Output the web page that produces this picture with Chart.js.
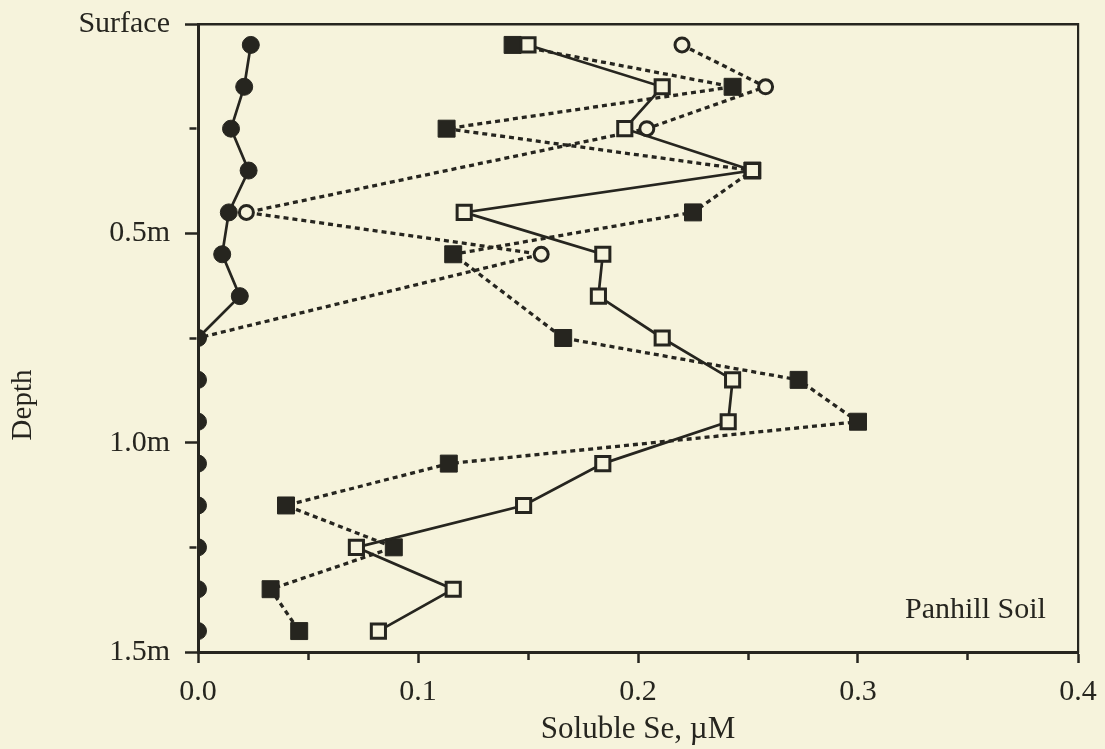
<!DOCTYPE html>
<html>
<head>
<meta charset="utf-8">
<script src="https://cdn.jsdelivr.net/npm/chart.js@4.4.1/dist/chart.umd.min.js"></script>
<style>
html,body{margin:0;padding:0;background:#f6f3dc;}
#wrap{position:relative;width:1105px;height:749px;}
</style>
</head>
<body>
<div id="wrap"><canvas id="c"></canvas></div>
<script>
// ---- data ----
const depths = [0.05,0.15,0.25,0.35,0.45,0.55,0.65,0.75,0.85,0.95,1.05,1.15,1.25,1.35,1.45];
const filledCircleSe = [0.024,0.021,0.015,0.023,0.014,0.011,0.019,0,0,0,0,0,0,0,0];
const openCircleSe   = [0.220,0.258,0.204,null,0.022,0.156,null,0,null,null,null,null,null,null,null];
const filledSquareSe = [0.143,0.243,0.113,0.252,0.225,0.116,null,0.166,0.273,0.300,0.114,0.040,0.089,0.033,0.046];
const openSquareSe   = [0.150,0.211,0.194,0.252,0.121,0.184,0.182,0.211,0.243,0.241,0.184,0.148,0.072,0.116,0.082];
const xTickLabels = ['0.0','0.1','0.2','0.3','0.4'];
const yTickLabels = ['Surface','0.5m','1.0m','1.5m'];
const xTitle = 'Soluble Se, \u00B5M';
const yTitle = 'Depth';
const panelLabel = 'Panhill Soil';

// ---- style ----
const INK = '#26251f';
const BG = '#f6f3dc';
const FONT = "'Liberation Serif','Times New Roman',serif";

const pts = arr => depths.map((d,i) => ({x: arr[i], y: d}));
const clipBox = {left: 0, top: 30, right: 30, bottom: 30};
const DOT = [5,4];

const textPlugin = {
  id: 'extraText',
  afterDraw(chart) {
    const ctx = chart.ctx;
    ctx.save();
    ctx.fillStyle = INK;
    ctx.font = "30px " + FONT;
    ctx.textAlign = 'left';
    ctx.textBaseline = 'alphabetic';
    ctx.fillText(panelLabel, 905, 618);
    ctx.translate(31, 405);
    ctx.rotate(-Math.PI/2);
    ctx.textAlign = 'center';
    ctx.font = "29px " + FONT;
    ctx.fillText(yTitle, 0, 0);
    ctx.restore();
  }
};

new Chart(document.getElementById('c'), {
  type: 'line',
  data: {
    datasets: [
      { label: 'open squares', data: pts(openSquareSe), borderColor: INK, borderWidth: 2.7,
        pointStyle: 'rect', pointRadius: 10, pointBorderWidth: 3, pointBackgroundColor: BG,
        pointBorderColor: INK, spanGaps: true, clip: clipBox },
      { label: 'filled squares', data: pts(filledSquareSe), borderColor: INK, borderWidth: 3.3,
        borderDash: DOT, pointStyle: 'rect', pointRadius: 12, pointBorderWidth: 1,
        pointBackgroundColor: INK, pointBorderColor: INK, spanGaps: true, clip: clipBox },
      { label: 'filled circles', data: pts(filledCircleSe), borderColor: INK, borderWidth: 2.7,
        pointStyle: 'circle', pointRadius: 8.5, pointBorderWidth: 1,
        pointBackgroundColor: INK, pointBorderColor: INK, spanGaps: true, clip: clipBox },
      { label: 'open circles', data: pts(openCircleSe), borderColor: INK, borderWidth: 3.3,
        borderDash: DOT, pointStyle: 'circle', pointRadius: 7, pointBorderWidth: 3,
        pointBackgroundColor: BG, pointBorderColor: INK, spanGaps: true, clip: clipBox }
    ]
  },
  options: {
    responsive: true,
    maintainAspectRatio: false,
    animation: false,
    layout: { padding: { left: 0, right: 27, top: 24, bottom: 0 } },
    plugins: { legend: { display: false }, tooltip: { enabled: false } },
    elements: { line: { tension: 0, fill: false } },
    scales: {
      x: {
        type: 'linear', position: 'bottom', min: 0, max: 0.4,
        afterFit: s => { s.height = 97; s.paddingLeft = 0; s.paddingRight = 0; },
        ticks: {
          stepSize: 0.05, autoSkip: false, maxRotation: 0, padding: 11, color: INK,
          font: { family: FONT, size: 30 },
          callback: v => { const k = Math.round(v * 100); return k % 10 === 0 ? xTickLabels[k / 10] : ''; }
        },
        grid: {
          drawOnChartArea: false, drawTicks: true, tickLength: 11, tickWidth: 2.5, tickColor: INK,
          tickBorderDash: c => (Math.round(c.tick.value * 100) % 10 === 0) ? [] : [6, 100]
        },
        border: { display: true, width: 3, color: INK },
        title: { display: true, text: xTitle, color: INK, font: { family: FONT, size: 31 }, padding: { top: 0, bottom: 1 } }
      },
      y: {
        type: 'linear', position: 'left', reverse: true, min: 0, max: 1.5,
        afterFit: s => { s.width = 198; s.paddingTop = 0; s.paddingBottom = 0; },
        ticks: {
          stepSize: 0.25, autoSkip: false, padding: 15, color: INK,
          font: { family: FONT, size: 30 },
          callback: v => { const k = Math.round(v * 100); return k % 50 === 0 ? yTickLabels[k / 50] : ''; }
        },
        grid: {
          drawOnChartArea: false, drawTicks: true, tickLength: 13, tickWidth: 2.5, tickColor: INK,
          tickBorderDash: c => (Math.round(c.tick.value * 100) % 50 === 0) ? [] : [0, 4.5, 7, 100]
        },
        border: { display: true, width: 3, color: INK }
      },
      xTop: {
        type: 'linear', axis: 'x', position: 'top', min: 0, max: 0.4,
        afterFit: s => { s.height = 0; s.paddingLeft = 0; s.paddingRight = 0; },
        ticks: { display: false },
        grid: { display: false, drawTicks: false },
        border: { display: true, width: 2.5, color: INK }
      },
      yRight: {
        type: 'linear', axis: 'y', position: 'right', min: 0, max: 1.5,
        afterFit: s => { s.width = 0; s.paddingTop = 0; s.paddingBottom = 0; },
        ticks: { display: false },
        grid: { display: false, drawTicks: false },
        border: { display: true, width: 2.2, color: INK }
      }
    }
  },
  plugins: [textPlugin]
});
</script>
</body>
</html>
